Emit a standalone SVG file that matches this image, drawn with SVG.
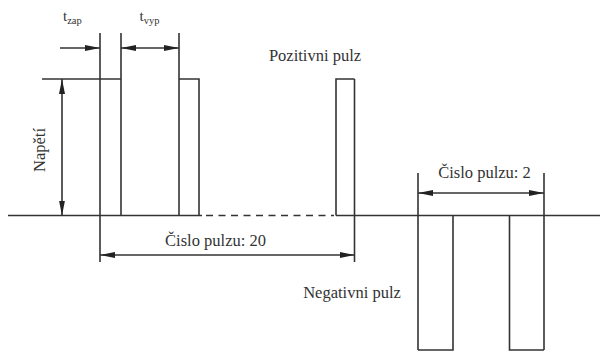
<svg xmlns="http://www.w3.org/2000/svg" width="600" height="352" viewBox="0 0 600 352">
  <style>
    .ln { stroke: #333; stroke-width: 1.6; fill: none; }
    .dash { stroke: #333; stroke-width: 1.6; fill: none; stroke-dasharray: 7 5.5; }
    .txt { font-family: "Liberation Serif", "DejaVu Serif", serif; font-size: 16.5px; fill: #333; }
    .t { font-family: "Liberation Serif", "DejaVu Serif", serif; font-size: 15px; fill: #333; }
    .sub { font-size: 10.5px; }
    .arr { marker-end: url(#ah); }
    .arr2 { marker-start: url(#ahs); marker-end: url(#ah); }
  </style>
  <defs>
    <marker id="ah" markerUnits="userSpaceOnUse" markerWidth="16" markerHeight="8" refX="15" refY="3.5" orient="auto">
      <path d="M0,0.5 L15,3.5 L0,6.5 z" fill="#222"/>
    </marker>
    <marker id="ahs" markerUnits="userSpaceOnUse" markerWidth="16" markerHeight="8" refX="0" refY="3.5" orient="auto">
      <path d="M15,0.5 L0,3.5 L15,6.5 z" fill="#222"/>
    </marker>
  </defs>
  <rect width="600" height="352" fill="#fff"/>

  <g id="waveform">
    <line class="ln" x1="8" y1="215.5" x2="202" y2="215.5"/>
    <line class="dash" x1="206" y1="215.5" x2="334" y2="215.5"/>
    <line class="ln" x1="336" y1="215.5" x2="600" y2="215.5"/>
    <line class="ln" x1="42" y1="79" x2="121" y2="79"/>
    <line class="ln" x1="100" y1="33" x2="100" y2="262"/>
    <line class="ln" x1="121" y1="33" x2="121" y2="215.5"/>
    <line class="ln" x1="179" y1="33" x2="179" y2="215.5"/>
    <polyline class="ln" points="179,79 199,79 199,215.5"/>
    <polyline class="ln" points="336,215.5 336,79 354.5,79"/>
    <line class="ln" x1="354.5" y1="79" x2="354.5" y2="262"/>
    <line class="ln" x1="418" y1="173" x2="418" y2="350"/>
    <polyline class="ln" points="418,350 453,350 453,215.5"/>
    <line class="ln" x1="544" y1="173" x2="544" y2="350"/>
    <polyline class="ln" points="544,350 509.5,350 509.5,215.5"/>
  </g>

  <g id="connectors">
    <line class="ln arr" x1="60" y1="48" x2="100" y2="48"/>
    <line class="ln arr2" x1="121" y1="48" x2="179" y2="48"/>
    <line class="ln arr2" x1="62" y1="79" x2="62" y2="215.5"/>
    <line class="ln arr2" x1="100" y1="255" x2="354.5" y2="255"/>
    <line class="ln arr2" x1="418" y1="193" x2="544" y2="193"/>
  </g>

  <g id="labels">
    <text class="t" x="63" y="21">t<tspan class="sub" dy="2.5">zap</tspan></text>
    <text class="t" x="139.5" y="21">t<tspan class="sub" dy="2.5">vyp</tspan></text>
    <text class="txt" x="315" y="61" text-anchor="middle">Pozitivni pulz</text>
    <text class="txt" transform="translate(45,150) rotate(-90)" text-anchor="middle">Napětí</text>
    <text class="txt" x="215.5" y="246" text-anchor="middle">Čislo pulzu: 20</text>
    <text class="txt" x="484.5" y="178" text-anchor="middle">Čislo pulzu: 2</text>
    <text class="txt" x="352" y="298" text-anchor="middle">Negativni pulz</text>
  </g>
</svg>
